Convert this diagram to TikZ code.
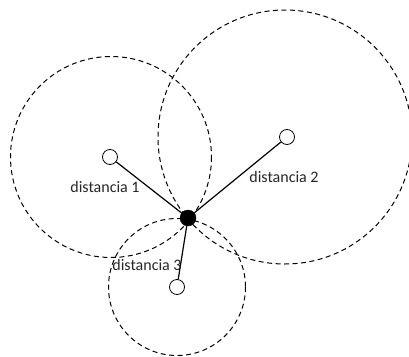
\documentclass[tikz,border=0pt]{standalone}
\usepackage{fontspec}
\setmainfont{Carlito}
\usetikzlibrary{positioning}
\tikzset{
  fig/.style={x=1pt,y=-1pt,font=\fontsize{16}{18}\selectfont},
  station/.style={circle,draw,thick,fill=white,minimum size=15pt,inner sep=0pt},
  target/.style={circle,draw,fill=black,minimum size=16pt,inner sep=0pt},
  reach/.style={draw,line width=1pt,dash pattern=on 5pt off 3.5pt},
  ln/.style={line width=1.2pt},
  lbl/.style={inner sep=1pt,text=black!85},
}
\begin{document}
\begin{tikzpicture}[fig]
\useasboundingbox (0,0) rectangle (409,356);

% --- reach circles, drawn first
\draw[reach] (111,157) circle[radius=100.5];
\draw[reach] (285,137) circle[radius=127];
\draw[reach] (177,287) circle[radius=68.5];

% --- stations and the point that is located
\node[target]  (obj) at (188,218) {};
\node[station] (st1) at (110,157) {};
\node[station] (st2) at (287,137) {};
\node[station] (st3) at (177,287) {};

\draw[ln] (st1) -- (obj);
\draw[ln] (st2) -- (obj);
\draw[ln] (st3) -- (obj);

\node[lbl] (d1) at (105,187) {distancia 1};
\node[lbl] (d2) at (284,177) {distancia 2};
\node[lbl] (d3) at (147,265) {distancia 3};

\end{tikzpicture}
\end{document}
